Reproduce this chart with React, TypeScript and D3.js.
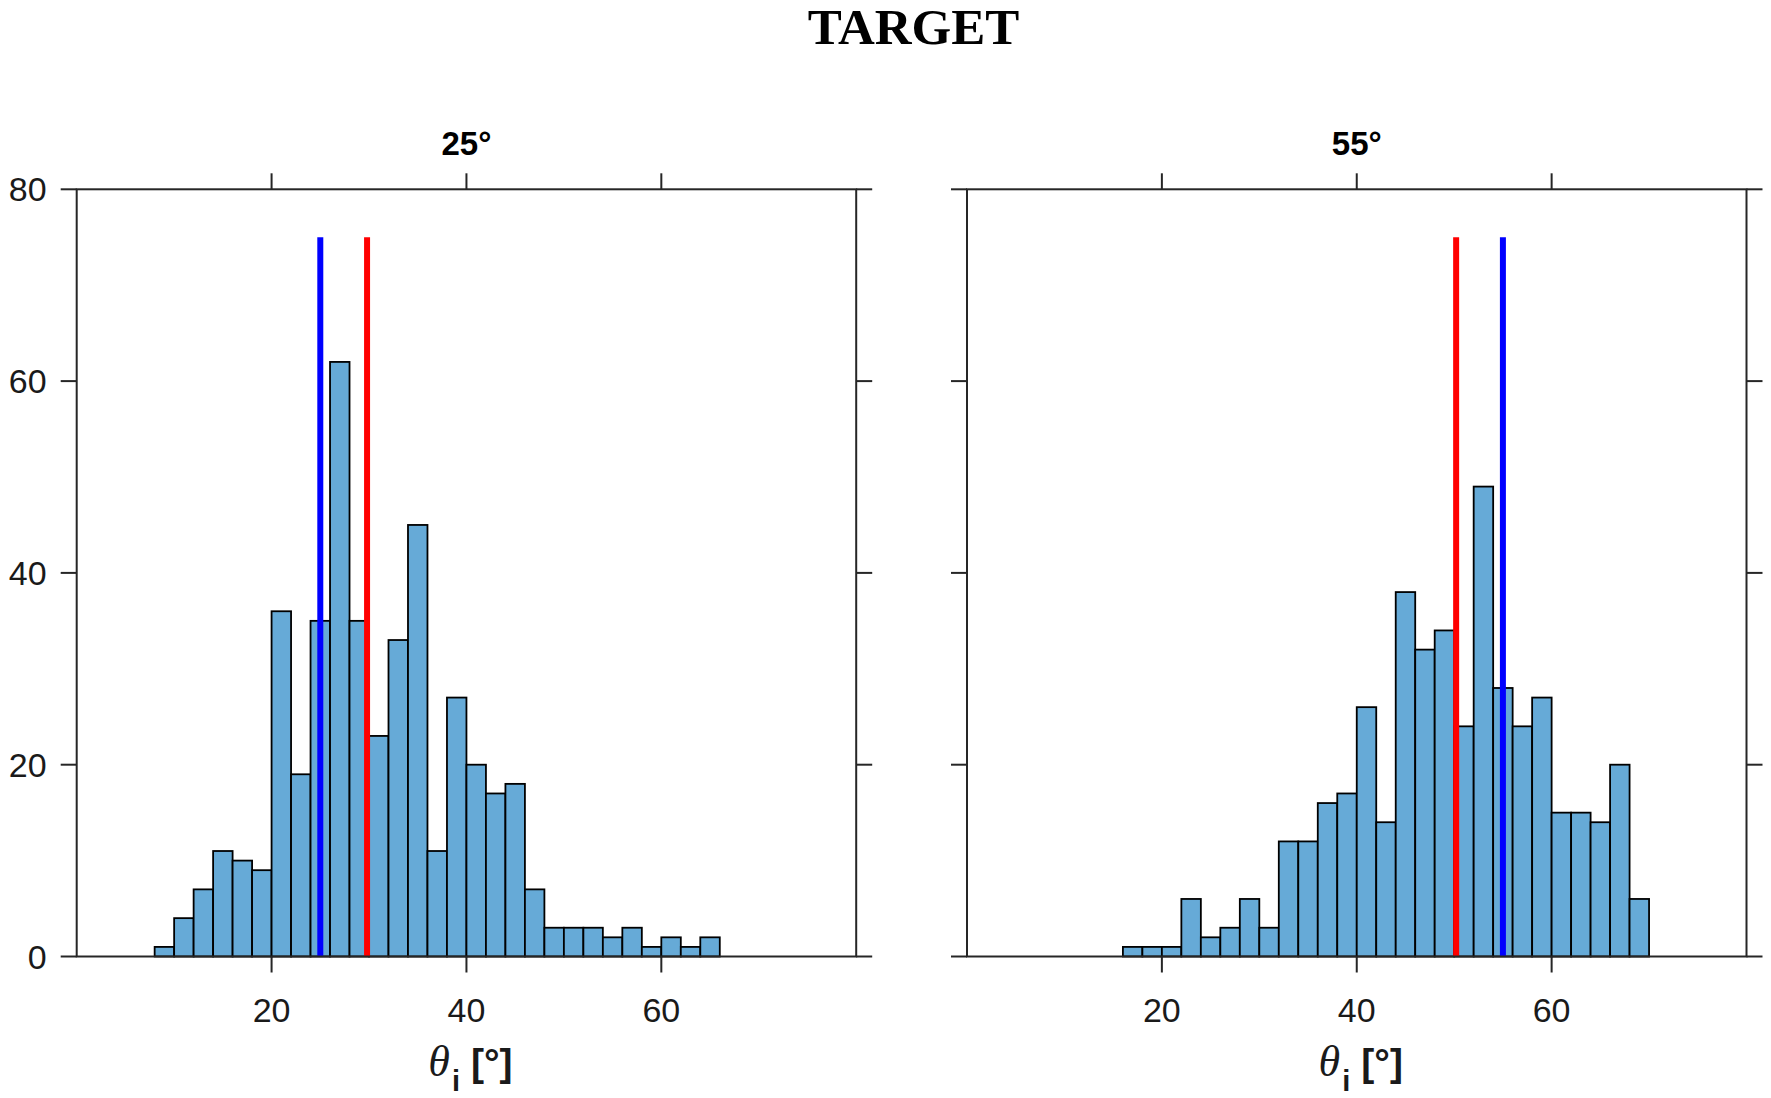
import React from 'react';
import * as d3 from 'd3';

// ---- data ----
const binEdges = [8, 10, 12, 14, 16, 18, 20, 22, 24, 26, 28, 30, 32, 34, 36, 38, 40, 42, 44, 46, 48, 50, 52, 54, 56, 58, 60, 62, 64, 66, 68, 70];
const counts25 = [1, 4, 7, 11, 10, 9, 36, 19, 35, 62, 35, 23, 33, 45, 11, 27, 20, 17, 18, 7, 3, 3, 3, 2, 3, 1, 2, 1, 2, 0, 0];
const counts55 = [0, 0, 0, 0, 1, 1, 1, 6, 2, 3, 6, 3, 12, 12, 16, 17, 26, 14, 38, 32, 34, 24, 49, 28, 24, 27, 15, 15, 14, 20, 6];
const panelTitles = ['25°', '55°'];
const blueLines = [25, 55];
const redLines = [29.8, 50.2];
const refLineTop = 75;
const xDomain = [0, 80];
const yDomain = [0, 80];
const xTicks = [20, 40, 60];
const yTicks = [0, 20, 40, 60, 80];
const mainTitle = 'TARGET';

// ---- layout ----
const W = 1771;
const H = 1098;
const panelX = [76.7, 967];
const panelW = 779.5;
const top = 189.3;
const bottom = 956.5;
const tickLen = 16;
const axisColor = '#262626';
const barFill = '#66AAD7';
const sans = '"Liberation Sans", Arial, Helvetica, sans-serif';
const serif = '"Liberation Serif", "Times New Roman", serif';

function Panel({ x0, counts, title, blue, red, showYLabels }: any) {
  const x = d3.scaleLinear().domain(xDomain).range([x0, x0 + panelW]);
  const y = d3.scaleLinear().domain(yDomain).range([bottom, top]);
  const bins = counts.map((c: number, i: number) => ({ x0: binEdges[i], x1: binEdges[i + 1], c }));
  const cx = x0 + panelW / 2;
  return (
    <g>
      {bins.map((b: any, i: number) => (
        <rect
          key={i}
          x={x(b.x0)}
          y={y(b.c)}
          width={x(b.x1) - x(b.x0)}
          height={y(0) - y(b.c)}
          fill={barFill}
          stroke="#000"
          strokeWidth={1.8}
        />
      ))}
      <line x1={x(blue)} x2={x(blue)} y1={y(0)} y2={y(refLineTop)} stroke="#0000FF" strokeWidth={6} />
      <line x1={x(red)} x2={x(red)} y1={y(0)} y2={y(refLineTop)} stroke="#FF0000" strokeWidth={6} />
      {/* box */}
      <rect x={x0} y={top} width={panelW} height={bottom - top} fill="none" stroke={axisColor} strokeWidth={2} />
      {/* x ticks bottom & top */}
      {xTicks.map((t) => (
        <g key={'xt' + t}>
          <line x1={x(t)} x2={x(t)} y1={bottom} y2={bottom + tickLen} stroke={axisColor} strokeWidth={2} />
          <line x1={x(t)} x2={x(t)} y1={top} y2={top - tickLen} stroke={axisColor} strokeWidth={2} />
          <text x={x(t)} y={1022} textAnchor="middle" fontFamily={sans} fontSize={34} fill="#1a1a1a">
            {t}
          </text>
        </g>
      ))}
      {/* y ticks left & right */}
      {yTicks.map((t) => (
        <g key={'yt' + t}>
          <line x1={x0} x2={x0 - tickLen} y1={y(t)} y2={y(t)} stroke={axisColor} strokeWidth={2} />
          <line x1={x0 + panelW} x2={x0 + panelW + tickLen} y1={y(t)} y2={y(t)} stroke={axisColor} strokeWidth={2} />
          {showYLabels && (
            <text x={x0 - 30} y={y(t) + 12} textAnchor="end" fontFamily={sans} fontSize={34} fill="#1a1a1a">
              {t}
            </text>
          )}
        </g>
      ))}
      {/* panel title */}
      <text x={cx} y={155} textAnchor="middle" fontFamily={sans} fontWeight="bold" fontSize={33} fill="#000">
        {title}
      </text>
      {/* x label */}
      <text x={x(40) + 4} y={1076} textAnchor="middle" fill="#1a1a1a">
        <tspan fontFamily={serif} fontStyle="italic" fontSize={44}>θ</tspan>
        <tspan fontFamily={sans} fontWeight="bold" fontSize={29} dy={15} dx={2}>i</tspan>
        <tspan fontFamily={sans} fontWeight="bold" fontSize={39} dy={-15} dx={11}>[°]</tspan>
      </text>
    </g>
  );
}

export default function App() {
  return (
    <svg
      width={W}
      height={H}
      viewBox={`0 0 ${W} ${H}`}
      style={{ position: 'absolute', left: 0, top: 0, background: '#fff' }}
    >
      <rect x={0} y={0} width={W} height={H} fill="#fff" />
      <text x={913.5} y={44} textAnchor="middle" fontFamily={serif} fontWeight="bold" fontSize={51} fill="#000">
        {mainTitle}
      </text>
      <Panel x0={panelX[0]} counts={counts25} title={panelTitles[0]} blue={blueLines[0]} red={redLines[0]} showYLabels={true} />
      <Panel x0={panelX[1]} counts={counts55} title={panelTitles[1]} blue={blueLines[1]} red={redLines[1]} showYLabels={false} />
    </svg>
  );
}
